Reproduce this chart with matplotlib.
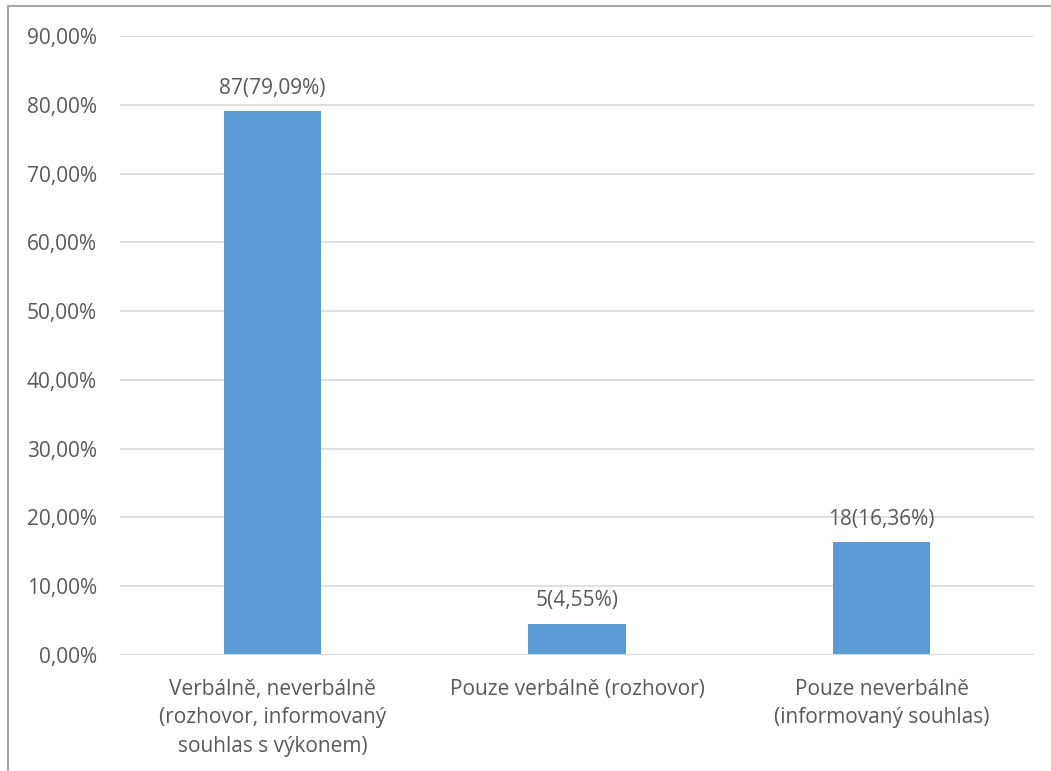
import matplotlib.pyplot as plt
from matplotlib.lines import Line2D
from matplotlib.ticker import FuncFormatter

categories = [
    "Verbálně, neverbálně\n(rozhovor, informovaný\nsouhlas s výkonem)",
    "Pouze verbálně (rozhovor)",
    "Pouze neverbálně\n(informovaný souhlas)",
]
counts = [87, 5, 18]
percents = [79.09, 4.55, 16.36]
yticks = [0, 10, 20, 30, 40, 50, 60, 70, 80, 90]

bar_color = "#5B9BD5"
text_color = "#595959"
grid_color = "#D9D9D9"
fs = 15

plt.rcParams["font.family"] = ["Open Sans", "DejaVu Sans"]

fig = plt.figure(figsize=(10.51, 7.71), dpi=100)
ax = fig.add_axes([120 / 1051, 1 - 655 / 771, 914 / 1051, 619 / 771])

x = range(len(categories))
bars = ax.bar(x, percents, width=0.32, color=bar_color, zorder=2)

for b, n, p in zip(bars, counts, percents):
    ax.annotate(
        f"{n}({p:.2f}%)".replace(".", ","),
        (b.get_x() + b.get_width() / 2, p),
        xytext=(0, 9), textcoords="offset points",
        ha="center", va="bottom", fontsize=fs, color=text_color,
    )

ax.set_xlim(-0.5, 2.5)
ax.set_ylim(0, 90)
ax.set_yticks(yticks)
ax.yaxis.set_major_formatter(FuncFormatter(lambda v, _: f"{v:.2f}%".replace(".", ",")))
ax.set_xticks(list(x))
ax.set_xticklabels(categories, linespacing=1.47)
ax.tick_params(axis="both", length=0, labelsize=fs, labelcolor=text_color)
ax.tick_params(axis="y", pad=16.5)
ax.tick_params(axis="x", pad=17)
ax.grid(axis="y", color=grid_color, linewidth=1.2, zorder=0)
for s in ax.spines.values():
    s.set_visible(False)
ax.axhline(0, color=grid_color, linewidth=1.5, zorder=3)

# chart frame on the top and left edges
fig.add_artist(Line2D([8 / 1051, 1], [1 - 6 / 771] * 2, color="#A6A6A6", linewidth=1.5))
fig.add_artist(Line2D([8 / 1051] * 2, [0, 1 - 6 / 771], color="#A6A6A6", linewidth=1.5))

fig.savefig("out.png", dpi=100, facecolor="white")
